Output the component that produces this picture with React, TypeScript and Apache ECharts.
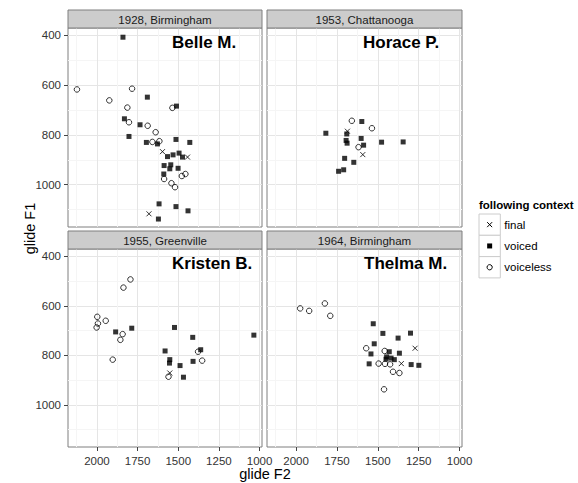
import React, { useEffect, useRef } from "react";
import * as echarts from "echarts";

const panelTitles = ["1928, Birmingham", "1953, Chattanooga", "1955, Greenville", "1964, Birmingham"];
const speakers = ["Belle M.", "Horace P.", "Kristen B.", "Thelma M."];
const contexts = ["final", "voiced", "voiceless"];
const xTicks = [2000, 1750, 1500, 1250, 1000];
const xMinor = [2125, 1875, 1625, 1375, 1125];
const yTicks = [400, 600, 800, 1000];
const yMinor = [500, 700, 900, 1100];

// [glide F2, glide F1]
const belleFinal = [[1597, 867], [1443, 889], [1680, 1117]];
const belleVoiced = [[1840, 407], [1690, 648], [1511, 684], [1831, 735], [1735, 759], [1803, 806], [1696, 830], [1628, 836], [1514, 818], [1429, 830], [1566, 887], [1532, 880], [1495, 873], [1474, 889], [1587, 923], [1546, 920], [1552, 936], [1501, 934], [1589, 957], [1618, 1077], [1514, 1088], [1440, 1105], [1622, 1138]];
const belleVoiceless = [[2123, 617], [1784, 614], [1924, 661], [1813, 690], [1536, 691], [1803, 749], [1688, 763], [1639, 789], [1659, 828], [1616, 825], [1456, 957], [1478, 965], [1587, 977], [1542, 994], [1520, 1010]];

const horaceFinal = [[1686, 785], [1592, 879]];
const horaceVoiced = [[1598, 746], [1818, 793], [1690, 796], [1694, 822], [1688, 833], [1602, 814], [1587, 841], [1477, 829], [1345, 828], [1703, 894], [1647, 910], [1709, 940], [1740, 946]];
const horaceVoiceless = [[1659, 743], [1536, 773], [1618, 849]];

const kristenFinal = [[1552, 871]];
const kristenVoiced = [[1786, 690], [1885, 705], [1523, 687], [1411, 727], [1035, 718], [1362, 777], [1581, 782], [1552, 817], [1554, 831], [1489, 841], [1409, 824], [1468, 888]];
const kristenVoiceless = [[1794, 493], [1837, 526], [1998, 644], [1946, 660], [1994, 671], [2002, 687], [1842, 714], [1856, 737], [1903, 817], [1378, 785], [1353, 821], [1560, 886]];

const thelmaFinal = [[1272, 771], [1356, 833]];
const thelmaVoiced = [[1528, 672], [1469, 711], [1376, 730], [1300, 710], [1522, 753], [1542, 794], [1430, 785], [1368, 791], [1446, 806], [1419, 811], [1399, 817], [1450, 815], [1553, 834], [1296, 837], [1249, 840]];
const thelmaVoiceless = [[1975, 610], [1920, 620], [1824, 590], [1791, 640], [1571, 771], [1458, 782], [1495, 833], [1456, 834], [1425, 836], [1407, 866], [1368, 871], [1462, 937]];

const panelData = [
  [belleFinal, belleVoiced, belleVoiceless],
  [horaceFinal, horaceVoiced, horaceVoiceless],
  [kristenFinal, kristenVoiced, kristenVoiceless],
  [thelmaFinal, thelmaVoiced, thelmaVoiceless],
];

const FONT = '"Liberation Sans", Arial, Helvetica, sans-serif';
const GRIDS = [
  { left: 68, top: 28, width: 194, height: 199 },
  { left: 267, top: 28, width: 195, height: 199 },
  { left: 68, top: 249, width: 194, height: 198 },
  { left: 267, top: 249, width: 195, height: 198 },
];
const STRIP_TOP = [10, 10, 231, 231];
const LABEL_POS = [[172, 42], [363, 42], [172, 263], [364, 263]];
const X_MIN = 985, X_MAX = 2178, Y_MIN = 370, Y_MAX = 1170;

const SYMBOLS = ["path://M0 0L10 10M10 0L0 10", "rect", "circle"];

export default function App() {
  const ref = useRef<HTMLDivElement>(null);
  useEffect(() => {
    if (!ref.current) return;
    const chart = echarts.init(ref.current, undefined, { renderer: "svg" });
    const plain = (v: number) => String(v);
    const xAxes: any[] = [];
    const yAxes: any[] = [];
    for (let i = 0; i < 4; i++) {
      const isBottom = i >= 2;
      const isLeft = i % 2 === 0;
      xAxes.push({
        type: "value", gridIndex: i, min: X_MIN, max: X_MAX, inverse: true, position: "bottom",
        axisLine: { show: false, onZero: false },
        axisTick: { show: isBottom, length: 4, customValues: xTicks, lineStyle: { color: "#444", width: 1 } },
        axisLabel: { show: isBottom, customValues: xTicks, formatter: plain, margin: 8, color: "#333", fontSize: 11.5, fontFamily: FONT },
        splitLine: { show: true, lineStyle: { color: "#e5e5e5", width: 1 } },
      });
      yAxes.push({
        type: "value", gridIndex: i, min: Y_MIN, max: Y_MAX, inverse: true, position: "left",
        axisLine: { show: false, onZero: false },
        axisTick: { show: isLeft, length: 4, customValues: yTicks, lineStyle: { color: "#444", width: 1 } },
        axisLabel: { show: isLeft, customValues: yTicks, formatter: plain, margin: 7, color: "#333", fontSize: 11.5, fontFamily: FONT },
        splitLine: { show: true, lineStyle: { color: "#e5e5e5", width: 1 } },
      });
    }
    for (let i = 0; i < 4; i++) {
      xAxes.push({
        type: "value", gridIndex: i, min: X_MIN, max: X_MAX, inverse: true, position: "bottom",
        axisLine: { show: false, onZero: false },
        axisTick: { show: false, customValues: xMinor },
        axisLabel: { show: false, customValues: xMinor },
        splitLine: { show: true, lineStyle: { color: "#f5f5f5", width: 1 } },
      });
      yAxes.push({
        type: "value", gridIndex: i, min: Y_MIN, max: Y_MAX, inverse: true, position: "left",
        axisLine: { show: false, onZero: false },
        axisTick: { show: false, customValues: yMinor },
        axisLabel: { show: false, customValues: yMinor },
        splitLine: { show: true, lineStyle: { color: "#f5f5f5", width: 1 } },
      });
    }

    const series: any[] = [];
    panelData.forEach((groups, i) => {
      groups.forEach((pts, k) => {
        const style =
          k === 1
            ? { color: "#000" }
            : { color: "rgba(0,0,0,0)", borderColor: "#000", borderWidth: 1 };
        series.push({
          type: "scatter", name: contexts[k], xAxisIndex: i, yAxisIndex: i,
          symbol: SYMBOLS[k], symbolSize: k === 2 ? 5.5 : 5,
          itemStyle: style, data: pts, silent: true, z: 3,
        });
      });
    });

    const graphics: any[] = [];
    GRIDS.forEach((g, i) => {
      graphics.push({
        type: "rect", silent: true, z: 50,
        shape: { x: g.left, y: STRIP_TOP[i], width: g.width, height: 18 },
        style: { fill: "#cccccc", stroke: "#7f7f7f", lineWidth: 1 },
      });
      graphics.push({
        type: "text", silent: true, z: 51, x: g.left + g.width / 2, y: STRIP_TOP[i] + 9.5,
        style: { text: panelTitles[i], fill: "#1a1a1a", fontSize: 11.5, fontFamily: FONT, align: "center", verticalAlign: "middle" },
      });
      graphics.push({
        type: "text", silent: true, z: 51, x: LABEL_POS[i][0], y: LABEL_POS[i][1],
        style: { text: speakers[i], fill: "#000", fontSize: 17, fontWeight: "bold", fontFamily: FONT, align: "left", verticalAlign: "middle" },
      });
    });
    graphics.push({
      type: "text", silent: true, z: 51, x: 265, y: 474,
      style: { text: "glide F2", fill: "#000", fontSize: 14.5, fontFamily: FONT, align: "center", verticalAlign: "middle" },
    });
    graphics.push({
      type: "text", silent: true, z: 51, x: 30, y: 228.5, rotation: Math.PI / 2,
      style: { text: "glide F1", fill: "#000", fontSize: 14.5, fontFamily: FONT, align: "center", verticalAlign: "middle" },
    });
    // legend
    const LX = 479, LY = 214, KS = 21.3;
    graphics.push({
      type: "text", silent: true, z: 51, x: LX, y: 205,
      style: { text: "following context", fill: "#000", fontSize: 11.5, fontWeight: "bold", fontFamily: FONT, align: "left", verticalAlign: "middle" },
    });
    contexts.forEach((c, k) => {
      const top = LY + k * KS;
      const cx = LX + KS / 2, cy = top + KS / 2;
      graphics.push({ type: "rect", silent: true, z: 50, shape: { x: LX, y: top, width: KS, height: KS }, style: { fill: "#fff", stroke: "#cccccc", lineWidth: 1 } });
      if (k === 0) {
        graphics.push({ type: "line", silent: true, z: 51, shape: { x1: cx - 2.5, y1: cy - 2.5, x2: cx + 2.5, y2: cy + 2.5 }, style: { stroke: "#000", lineWidth: 1 } });
        graphics.push({ type: "line", silent: true, z: 51, shape: { x1: cx + 2.5, y1: cy - 2.5, x2: cx - 2.5, y2: cy + 2.5 }, style: { stroke: "#000", lineWidth: 1 } });
      } else if (k === 1) {
        graphics.push({ type: "rect", silent: true, z: 51, shape: { x: cx - 2.5, y: cy - 2.5, width: 5, height: 5 }, style: { fill: "#000" } });
      } else {
        graphics.push({ type: "circle", silent: true, z: 51, shape: { cx, cy, r: 2.6 }, style: { fill: "none", stroke: "#000", lineWidth: 1 } });
      }
      graphics.push({
        type: "text", silent: true, z: 51, x: LX + KS + 4, y: cy,
        style: { text: c, fill: "#000", fontSize: 11.5, fontFamily: FONT, align: "left", verticalAlign: "middle" },
      });
    });

    chart.setOption({
      animation: false,
      backgroundColor: "#fff",
      grid: GRIDS.map((g) => ({ ...g, show: true, borderColor: "#7f7f7f", borderWidth: 1, backgroundColor: "transparent", containLabel: false })),
      xAxis: xAxes,
      yAxis: yAxes,
      series,
      graphic: graphics,
    });
    return () => chart.dispose();
  }, []);
  return <div ref={ref} style={{ position: "absolute", left: 0, top: 0, width: 578, height: 483 }} />;
}
